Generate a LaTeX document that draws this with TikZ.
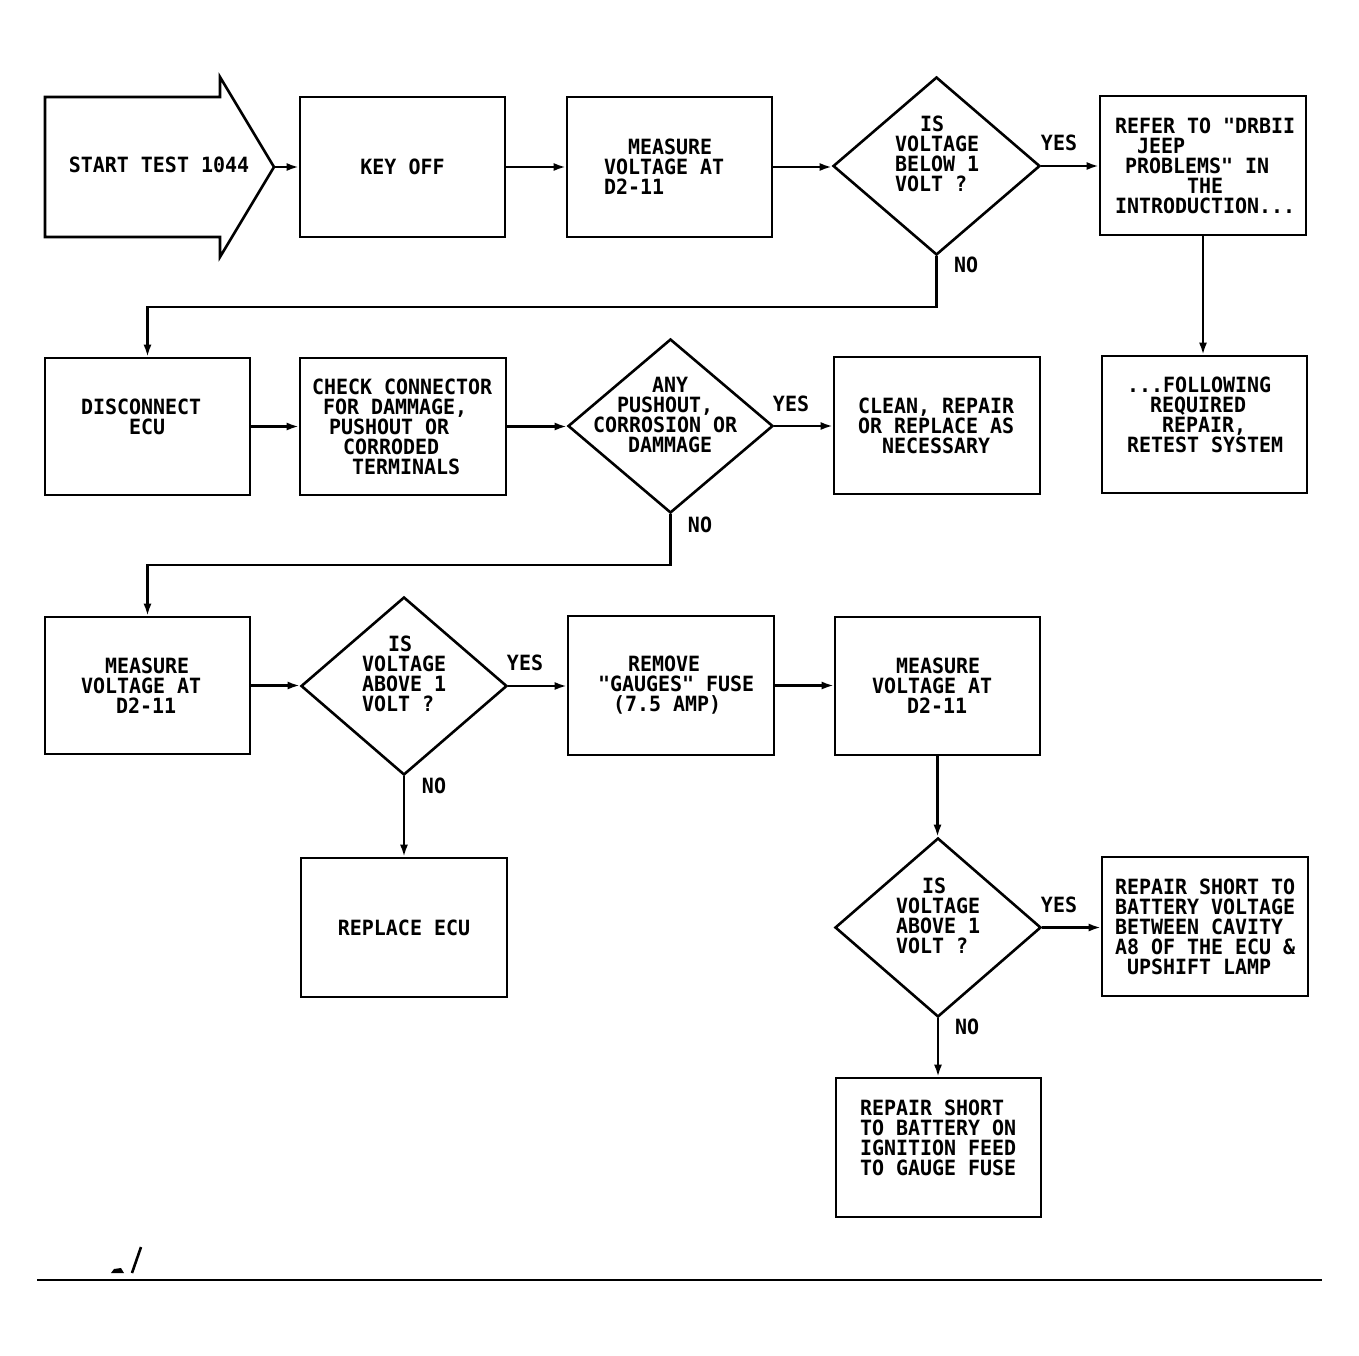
\documentclass[tikz,border=0pt]{standalone}
\usepackage{fontspec}
\newfontfamily\dmono[FakeStretch=0.95,WordSpace={1,0,0}]{DejaVu Sans Mono}
\usetikzlibrary{shapes.geometric,arrows.meta}
\newcommand\indt[1]{\hspace*{#1pt}}
\begin{document}
\begin{tikzpicture}[x=1pt,y=-1pt,
  txtfont/.style={font=\dmono\bfseries\fontsize{21}{20}\selectfont,
    execute at begin node={\spaceskip=0pt\xspaceskip=0pt\hyphenpenalty=10000\exhyphenpenalty=10000\uchyph=0\relax}},
  box/.style={draw, line width=2.6pt, rectangle, inner sep=0pt, align=left, txtfont},
  dia/.style={draw, line width=2.6pt, diamond, inner sep=0pt},
  dtxt/.style={inner sep=0pt, align=left, txtfont},
  lbl/.style={inner sep=0pt, txtfont},
  conn/.style={line width=2.2pt, -{Latex[length=12pt,width=8pt]}},
  plain/.style={line width=2.2pt}]
\useasboundingbox (0,0) rectangle (1359,1356);
\fill[white] (0,0) rectangle (1359,1356);

% start arrow
\draw[line width=2.6pt, line join=miter] (45,97) -- (220,97) -- (220,77) -- (274,167) -- (220,257) -- (220,237) -- (45,237) -- cycle;
\node[lbl] (start) at (159,165) {START~TEST~1044};
\coordinate (tip) at (274,167);

% row 1
\node[box, minimum width=205pt, minimum height=140pt] (keyoff) at (402.5,167) {KEY~OFF};
\node[box, minimum width=205pt, minimum height=140pt, text width=131pt] (meas1) at (669.5,167)
  {\indt{24}MEASURE\\VOLTAGE~AT\\D2-11};
\node[dia, minimum width=207pt, minimum height=178pt] (d1) at (936.5,166) {};
\node[dtxt, text width=82pt] (d1t) at (936,164) {\indt{25}IS\\VOLTAGE\\BELOW~1\\VOLT~?\\\indt{0}};
\node[box, minimum width=206pt, minimum height=139pt, text width=176pt] (refer) at (1203,165.5)
  {REFER~TO~"DRBII\\\indt{22}JEEP\\\indt{10}PROBLEMS"~IN\\\indt{72}THE\\INTRODUCTION...};
\node[box, minimum width=205pt, minimum height=137pt, text width=155pt] (follow) at (1204.5,424.5)
  {...FOLLOWING\\\indt{23}REQUIRED\\\indt{35}REPAIR,\\RETEST~SYSTEM\\\indt{0}};

% row 2
\node[box, minimum width=205pt, minimum height=137pt, text width=133pt] (disc) at (147.5,426.5)
  {DISCONNECT\\\indt{48}ECU\\\indt{0}};
\node[box, minimum width=206pt, minimum height=137pt, text width=182pt] (check) at (403,426.5)
  {CHECK~CONNECTOR\\\indt{11}FOR~DAMMAGE,\\\indt{17}PUSHOUT~OR\\\indt{31}CORRODED\\\indt{40}TERMINALS};
\node[dia, minimum width=205pt, minimum height=174pt] (d2) at (670.5,426) {};
\node[dtxt, text width=155pt] (d2t) at (670.5,425) {\indt{59}ANY\\\indt{24}PUSHOUT,\\CORROSION~OR\\\indt{35}DAMMAGE\\\indt{0}};
\node[box, minimum width=206pt, minimum height=137pt, text width=158pt] (clean) at (937,425.5)
  {CLEAN,~REPAIR\\OR~REPLACE~AS\\\indt{24}NECESSARY};

% row 3
\node[box, minimum width=205pt, minimum height=137pt, text width=133pt] (meas2) at (147.5,685.5)
  {\indt{24}MEASURE\\VOLTAGE~AT\\\indt{35}D2-11};
\node[dia, minimum width=206pt, minimum height=178pt] (d3) at (404,686) {};
\node[dtxt, text width=84pt] (d3t) at (404,684) {\indt{26}IS\\VOLTAGE\\ABOVE~1\\VOLT~?\\\indt{0}};
\node[box, minimum width=206pt, minimum height=139pt, text width=146pt] (remove) at (671,685.5)
  {\indt{30}REMOVE\\"GAUGES"~FUSE\\\indt{15}(7.5~AMP)};
\node[box, minimum width=205pt, minimum height=138pt, text width=131pt] (meas3) at (937.5,686)
  {\indt{24}MEASURE\\VOLTAGE~AT\\\indt{35}D2-11};
\node[box, minimum width=206pt, minimum height=139pt] (replace) at (404,927.5) {REPLACE~ECU};

% row 4
\node[dia, minimum width=206pt, minimum height=179pt] (d4) at (938,927.5) {};
\node[dtxt, text width=84pt] (d4t) at (938,926) {\indt{26}IS\\VOLTAGE\\ABOVE~1\\VOLT~?\\\indt{0}};
\node[box, minimum width=206pt, minimum height=139pt, text width=180pt] (rep1) at (1205,926.5)
  {REPAIR~SHORT~TO\\BATTERY~VOLTAGE\\BETWEEN~CAVITY\\A8~OF~THE~ECU~\&\\\indt{12}UPSHIFT~LAMP};
\node[box, minimum width=205pt, minimum height=139pt, text width=157pt] (rep2) at (938.5,1147.5)
  {REPAIR~SHORT\\TO~BATTERY~ON\\IGNITION~FEED\\TO~GAUGE~FUSE\\\indt{0}};

% labels
\node[lbl] (yes1) at (1059,143) {YES};
\node[lbl] (no1) at (966,265) {NO};
\node[lbl] (yes2) at (791,404) {YES};
\node[lbl] (no2) at (700,525) {NO};
\node[lbl] (yes3) at (525,663) {YES};
\node[lbl] (no3) at (434,786) {NO};
\node[lbl] (yes4) at (1059,905) {YES};
\node[lbl] (no4) at (967,1027) {NO};

% connectors
\draw[conn] (tip) -- (keyoff.west);
\draw[conn] (keyoff.east) -- (keyoff.east -| meas1.west);
\draw[conn] (meas1.east) -- (meas1.east -| d1.west);
\draw[conn] (d1.east) -- (d1.east -| refer.west);
\draw[conn] (refer.south) -- (refer.south |- follow.north);
\draw[conn] (d1.south) -- (d1.south |- 0,307) -| (disc.north);
\draw[conn] (disc.east) -- (disc.east -| check.west);
\draw[conn] (check.east) -- (check.east -| d2.west);
\draw[conn] (d2.east) -- (d2.east -| clean.west);
\draw[conn] (d2.south) -- (d2.south |- 0,565) -| (meas2.north);
\draw[conn] (meas2.east) -- (meas2.east -| d3.west);
\draw[conn] (d3.east) -- (d3.east -| remove.west);
\draw[conn] (remove.east) -- (remove.east -| meas3.west);
\draw[conn] (d3.south) -- (replace.north);
\draw[conn] (meas3.south) -- (meas3.south |- d4.north);
\draw[conn] (d4.east) -- (d4.east -| rep1.west);
\draw[conn] (d4.south) -- (d4.south |- rep2.north);

% bottom rule and marks
\draw[line width=1.2pt] (37,1280) -- (1322,1280);
\fill (111,1273) -- (114,1269) -- (121,1268) -- (124,1273) -- cycle;
\draw[line width=2.6pt] (132,1273) -- (141,1247);
\end{tikzpicture}
\end{document}
